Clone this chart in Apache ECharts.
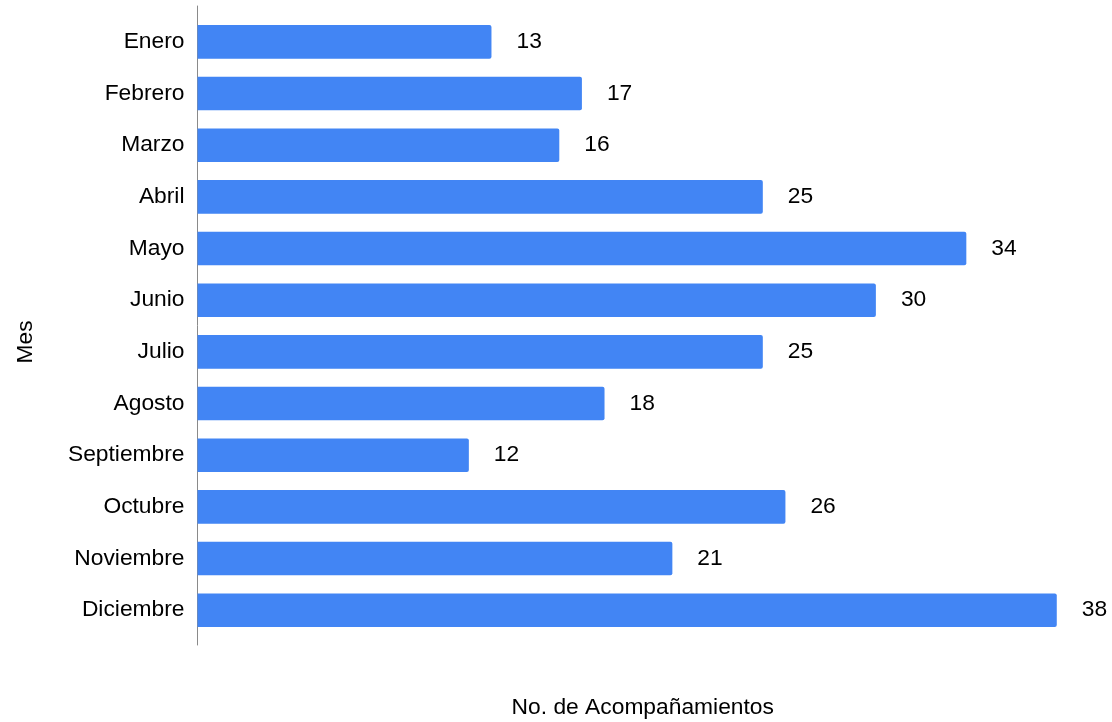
<!DOCTYPE html>
<html>
<head>
<meta charset="utf-8">
<script src="https://cdn.jsdelivr.net/npm/echarts@6/dist/echarts.min.js"></script>
<style>
html,body{margin:0;padding:0;background:#fff;}
#chart{width:1112px;height:722px;}
</style>
</head>
<body>
<div id="chart"></div>
<script>
const categories = ['Enero','Febrero','Marzo','Abril','Mayo','Junio','Julio','Agosto','Septiembre','Octubre','Noviembre','Diciembre'];
const values = [13,17,16,25,34,30,25,18,12,26,21,38];
const xAxisTitle = 'No. de Acompañamientos';
const yAxisTitle = 'Mes';

const FONT = '"Liberation Sans", Arial, sans-serif';
const FS = 22.8;
const chart = echarts.init(document.getElementById('chart'), null, {renderer:'canvas'});
chart.setOption({
  animation:false,
  backgroundColor:'#ffffff',
  textStyle:{fontFamily:FONT},
  grid:[
    {left:197.5, right:10, top:16, height:620, containLabel:false, outerBoundsMode:'none'},
    {left:197.5, right:10, top:6, bottom:77, containLabel:false, outerBoundsMode:'none'}
  ],
  xAxis:[
    {type:'value', gridIndex:0, min:0, max:40, show:true,
     axisLine:{show:false}, axisTick:{show:false}, axisLabel:{show:false}, splitLine:{show:false},
     name:xAxisTitle, nameLocation:'middle', nameGap:60,
     nameTextStyle:{fontSize:FS, color:'#000', fontFamily:FONT, padding:[0,14,0,0]}},
    {type:'value', gridIndex:1, min:0, max:1, show:false}
  ],
  yAxis:[
    {type:'category', gridIndex:0, data:categories, inverse:true,
     axisLine:{show:false}, axisTick:{show:false}, splitLine:{show:false},
     axisLabel:{fontSize:FS, color:'#000', fontFamily:FONT, margin:13},
     name:yAxisTitle, nameLocation:'middle', nameRotate:90, nameGap:160,
     nameTextStyle:{fontSize:FS, color:'#000', fontFamily:FONT, padding:[0,32,0,0]}},
    {type:'value', gridIndex:1, min:0, max:1,
     axisLine:{show:true, lineStyle:{color:'#8a8a8a', width:1}},
     axisTick:{show:false}, axisLabel:{show:false}, splitLine:{show:false}}
  ],
  series:[{
    type:'bar', xAxisIndex:0, yAxisIndex:0,
    data:values,
    barCategoryGap:'35%',
    itemStyle:{color:'#4285F4', borderRadius:[0,2,2,0]},
    label:{show:true, position:'right', distance:25, fontSize:FS, color:'#000', fontFamily:FONT}
  }]
});
</script>
</body>
</html>
